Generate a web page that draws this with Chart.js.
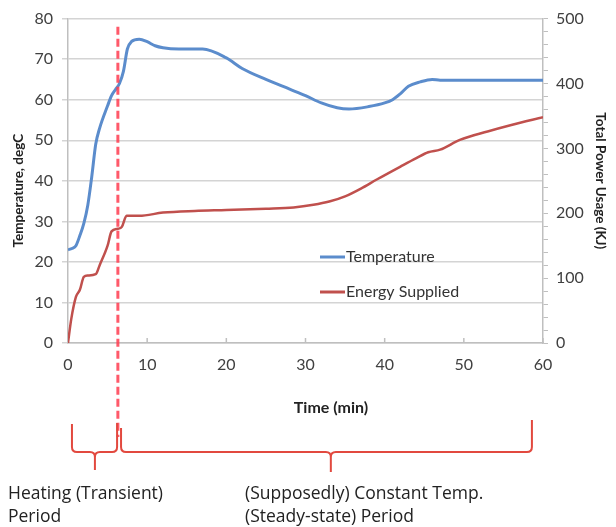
<!DOCTYPE html>
<html>
<head>
<meta charset="utf-8">
<script src="https://cdn.jsdelivr.net/npm/chart.js@4.4.1/dist/chart.umd.min.js"></script>
<style>
    html, body { margin: 0; padding: 0; background: #fff; }
    #chart-box { width: 616px; height: 527px; }
</style>
</head>
<body>
<div id="chart-box"><canvas id="powerChart"></canvas></div>
<script>
// temperature readings (min, degC)
const tempTimes = [0, 0.5, 1, 1.5, 2, 2.5, 3, 3.5, 4, 5, 5.5, 6, 6.5, 7, 7.5, 8, 9, 10, 11, 12, 14, 17, 20, 22, 25, 28, 30, 32, 34, 35.5, 38, 40, 41, 42, 43, 44.5, 46, 47, 50, 55, 60];
const tempValues = [23, 23.3, 24, 26.5, 29.5, 34, 41, 49, 53, 58.5, 61, 62.5, 64, 67, 72.5, 74.3, 74.9, 74.3, 73.3, 72.8, 72.5, 72.5, 70.3, 67.7, 65, 62.6, 61, 59.2, 58, 57.7, 58.3, 59.2, 60, 61.5, 63.3, 64.4, 65, 64.8, 64.8, 64.8, 64.8];

// energy supplied (min, kJ)
const energyTimes = [0, 0.4, 1, 1.5, 2, 2.5, 3.5, 4, 5, 5.5, 6.3, 6.8, 7.4, 9, 12, 16, 20, 25, 28.5, 31, 33, 35, 37, 39, 42, 44, 45.5, 47, 49.5, 53, 56, 60];
const energyValues = [0, 36, 71, 82, 102, 104, 106, 120, 150, 172, 176, 179, 196, 196, 201, 203.6, 205, 207, 209, 213, 218, 226, 238, 252, 272, 285, 294, 298, 313, 326, 336, 348];

// where the heating period ends (min)
const heatingEnd = 6.3;

const seriesLabels = ['Temperature', 'Energy Supplied'];
const seriesColors = ['#5b8ccc', '#c0504d'];
const fontName = 'Lato, "Open Sans", sans-serif';

/**
 * builds {x, y} points from two arrays
 */
function toPoints(xs, ys) {
    return xs.map((x, i) => ({ x: x, y: ys[i] }));
}

/**
 * draws one curly brace under the chart
 */
function drawBrace(ctx, x1, top1, x2, top2, xTip, yMid, yTip, r) {
    ctx.beginPath();
    ctx.moveTo(x1, top1);
    ctx.lineTo(x1, yMid - r);
    ctx.quadraticCurveTo(x1, yMid, x1 + r, yMid);
    ctx.lineTo(xTip - r, yMid);
    ctx.quadraticCurveTo(xTip, yMid, xTip, yMid + r);
    ctx.lineTo(xTip, yTip);
    ctx.moveTo(xTip, yMid + r);
    ctx.quadraticCurveTo(xTip, yMid, xTip + r, yMid);
    ctx.lineTo(x2 - r, yMid);
    ctx.quadraticCurveTo(x2, yMid, x2, yMid - r);
    ctx.lineTo(x2, top2);
    ctx.stroke();
}

// legend, divider, braces and notes
const notesPlugin = {
    id: 'periodNotes',
    afterDatasetsDraw(chart) {
        const ctx = chart.ctx;
        const xs = chart.scales.x;
        const ys = chart.scales.yTemp;
        const xd = xs.getPixelForValue(heatingEnd);

        // small upward ticks on the time axis
        ctx.save();
        ctx.strokeStyle = '#bfbfbf';
        ctx.lineWidth = 1.5;
        for (let t = 10; t <= 60; t += 10) {
            const px = xs.getPixelForValue(t);
            ctx.beginPath();
            ctx.moveTo(px, ys.bottom);
            ctx.lineTo(px, ys.bottom - 5);
            ctx.stroke();
        }

        // dashed divider
        ctx.strokeStyle = 'rgba(255, 60, 80, 0.85)';
        ctx.lineWidth = 3;
        ctx.setLineDash([8, 4]);
        ctx.beginPath();
        ctx.moveTo(xd, ys.getPixelForValue(78));
        ctx.lineTo(xd, 437);
        ctx.stroke();
        ctx.restore();
    },
    afterDraw(chart) {
        const ctx = chart.ctx;
        const xs = chart.scales.x;

        ctx.save();
        // legend inside the plot
        ctx.font = '16px ' + fontName;
        ctx.textBaseline = 'middle';
        ctx.lineWidth = 3;
        const legendY = [257, 292];
        for (let i = 0; i < seriesLabels.length; i++) {
            ctx.strokeStyle = seriesColors[i];
            ctx.beginPath();
            ctx.moveTo(320, legendY[i]);
            ctx.lineTo(345, legendY[i]);
            ctx.stroke();
            ctx.fillStyle = '#333';
            ctx.fillText(seriesLabels[i], 346, legendY[i]);
        }

        // x axis title
        ctx.font = 'bold 16px ' + fontName;
        ctx.textAlign = 'center';
        ctx.fillStyle = '#222';
        ctx.fillText('Time (min)', 331, 408);

        // braces
        ctx.strokeStyle = '#e2493f';
        ctx.lineWidth = 2;
        drawBrace(ctx, xs.getPixelForValue(0.5), 424, xs.getPixelForValue(6.2), 423,
            xs.getPixelForValue(3.4), 452, 470, 5);
        drawBrace(ctx, xs.getPixelForValue(6.7), 428, xs.getPixelForValue(58.6), 420,
            xs.getPixelForValue(33.2), 452, 472, 5);

        // notes
        ctx.font = '17.5px "Open Sans", Lato, sans-serif';
        ctx.textAlign = 'left';
        ctx.fillStyle = '#222';
        ctx.fillText('Heating (Transient)', 8, 494);
        ctx.fillText('Period', 8, 517);
        ctx.fillText('(Supposedly) Constant Temp.', 245, 494);
        ctx.fillText('(Steady-state) Period', 245, 517);
        ctx.restore();
    }
};

/**
 * temperature and energy chart
 */
function powerChart(id) {
    const data = {
        datasets: [{
            label: seriesLabels[0],
            data: toPoints(tempTimes, tempValues),
            borderColor: seriesColors[0],
            borderWidth: 3,
            pointRadius: 0,
            cubicInterpolationMode: 'monotone',
            yAxisID: 'yTemp'
        }, {
            label: seriesLabels[1],
            data: toPoints(energyTimes, energyValues),
            borderColor: seriesColors[1],
            borderWidth: 2.5,
            pointRadius: 0,
            cubicInterpolationMode: 'monotone',
            yAxisID: 'yEnergy'
        }]
    };

    const tickFont = { family: fontName, size: 16 };

    const config = {
        type: 'line',
        data: data,
        plugins: [notesPlugin],
        options: {
            responsive: true,
            maintainAspectRatio: false,
            animation: false,
            layout: { padding: { top: 16, bottom: 104, left: 0, right: 0 } },
            plugins: { legend: { display: false }, tooltip: { enabled: false } },
            scales: {
                x: {
                    type: 'linear',
                    min: 0, max: 60,
                    ticks: { stepSize: 10, color: '#404040', font: tickFont, padding: 12 },
                    grid: { display: false, drawTicks: false },
                    border: { color: '#bfbfbf', width: 1.5 },
                    afterFit: (s) => { s.height = 80; }
                },
                yTemp: {
                    position: 'left',
                    min: 0, max: 80,
                    ticks: { stepSize: 10, color: '#404040', font: tickFont, padding: 9 },
                    grid: { color: '#d4d4d4', lineWidth: 1.5, tickLength: 6 },
                    border: { color: '#bfbfbf', width: 1.5 },
                    title: {
                        // trailing spaces push the text a bit lower, as in the picture
                        display: true, text: 'Temperature, degC      ', color: '#222',
                        font: { family: fontName, size: 13.5, weight: 'bold' }, padding: { top: 11, bottom: 0 }
                    },
                    afterFit: (s) => { s.width = 68; }
                },
                yEnergy: {
                    position: 'right',
                    min: 0, max: 500,
                    ticks: {
                        stepSize: 20, autoSkip: false, color: '#404040', font: tickFont, padding: 8,
                        callback: (v) => (v % 100 === 0 ? v : '')
                    },
                    grid: { drawOnChartArea: false, color: '#bfbfbf', tickLength: 5 },
                    border: { color: '#bfbfbf', width: 1.5 },
                    title: {
                        display: true, text: 'Total Power Usage (KJ)', color: '#222',
                        font: { family: fontName, size: 13.5, weight: 'bold' }, padding: { top: 8, bottom: 0 }
                    },
                    afterFit: (s) => { s.width = 73; }
                }
            }
        }
    };

    const ctx = document.getElementById(id);
    new Chart(ctx, config);
}

powerChart('powerChart');
</script>
</body>
</html>
